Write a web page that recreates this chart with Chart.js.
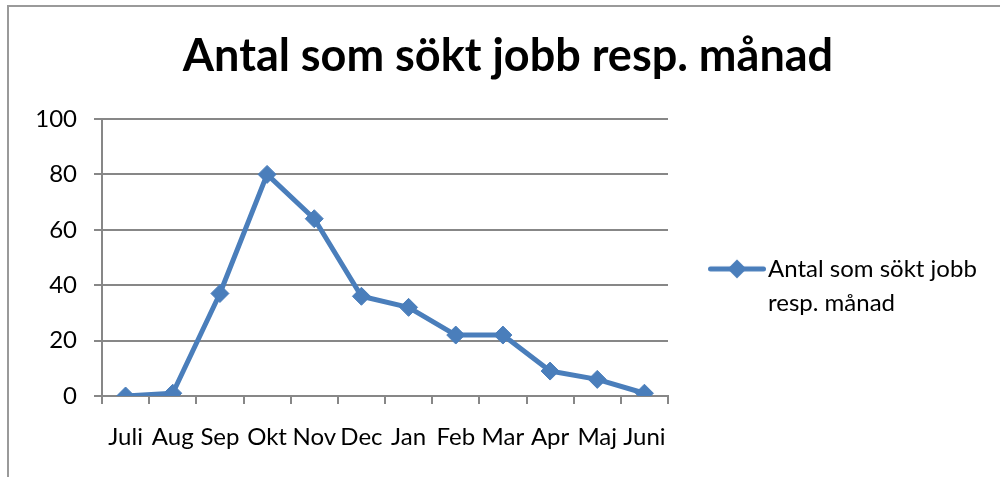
<!DOCTYPE html>
<html lang="sv">
<head>
<meta charset="utf-8">
<title>Antal som sökt jobb resp. månad</title>
<script src="https://cdn.jsdelivr.net/npm/chart.js@4/dist/chart.umd.min.js"></script>
<style>
    html, body { margin: 0; padding: 0; background: #fff; }
    #wrap { position: relative; width: 1000px; height: 477px; overflow: hidden; }
    #frame {
        position: absolute; left: 7px; top: 5px; width: 1100px; height: 600px;
        border-left: 2px solid #9a9a9a; border-top: 2px solid #9a9a9a;
    }
    #graph { position: absolute; left: 0; top: 0; }
</style>
</head>
<body>
<div id="wrap">
    <div id="frame"></div>
    <canvas id="graph" width="1000" height="477"></canvas>
</div>
<script>
// data
const months = ['Juli', 'Aug', 'Sep', 'Okt', 'Nov', 'Dec', 'Jan', 'Feb', 'Mar', 'Apr', 'Maj', 'Juni'];
const applicants = [0, 1, 37, 80, 64, 36, 32, 22, 22, 9, 6, 1];
const yTicks = [0, 20, 40, 60, 80, 100];
const seriesName = 'Antal som sökt jobb resp. månad';
const legendLines = ['Antal som sökt jobb', 'resp. månad'];
const chartTitle = 'Antal som sökt jobb resp. månad';

const blue = '#4A7EBB';
const gray = '#878787';
const font = "Lato, 'Noto Sans', sans-serif";

// legend marker: line + diamond
function makeLegendIcon() {
    const c = document.createElement('canvas');
    c.width = 58;
    c.height = 22;
    const ctx = c.getContext('2d');
    ctx.strokeStyle = blue;
    ctx.fillStyle = blue;
    ctx.lineWidth = 5;
    ctx.lineCap = 'round';
    ctx.beginPath();
    ctx.moveTo(2.5, 11);
    ctx.lineTo(55.5, 11);
    ctx.stroke();
    ctx.beginPath();
    ctx.moveTo(29, 1.5);
    ctx.lineTo(38.5, 11);
    ctx.lineTo(29, 20.5);
    ctx.lineTo(19.5, 11);
    ctx.closePath();
    ctx.fill();
    return c;
}
const legendIcon = makeLegendIcon();

// puts legend and title where the excel chart has them
const boxShift = {
    id: 'boxShift',
    afterLayout(chart, args, opts) {
        const l = chart.legend;
        l.left = chart.chartArea.right + opts.legendGap;
        l.right = chart.width;
        l.top += opts.legendDy;
        l.bottom += opts.legendDy;

        const t = chart.titleBlock;
        t.left = opts.titleLeft;
        t.right = chart.width;
    }
};

let graph = new Chart(document.getElementById('graph'), {
    type: 'line',
    data: {
        labels: months,
        datasets: [{
            label: seriesName,
            data: applicants,
            borderColor: blue,
            backgroundColor: blue,
            borderWidth: 5,
            borderJoinStyle: 'round',
            borderCapStyle: 'round',
            tension: 0,
            pointStyle: 'rectRot',
            pointRadius: 9,
            pointBorderWidth: 1,
            pointBackgroundColor: blue,
            pointBorderColor: blue
        }]
    },
    options: {
        responsive: false,
        animation: false,
        layout: {padding: {left: 0, right: 232, top: 0, bottom: 0}},
        plugins: {
            title: {
                display: true,
                text: chartTitle,
                color: '#000',
                font: {family: font, size: 45, weight: 'bold', lineHeight: 1.2},
                padding: {top: 29, bottom: 36}
            },
            legend: {
                position: 'right',
                fullSize: false,
                maxWidth: 100,
                labels: {
                    color: '#000',
                    font: {family: font, size: 24, lineHeight: 1.42},
                    usePointStyle: true,
                    pointStyleWidth: 38,
                    padding: 10,
                    generateLabels(chart) {
                        const items = Chart.defaults.plugins.legend.labels.generateLabels(chart);
                        items.forEach(it => {
                            it.text = legendLines;
                            it.pointStyle = legendIcon;
                        });
                        return items;
                    }
                }
            },
            boxShift: {legendGap: 40, legendDy: 33.5, titleLeft: 16},
            tooltip: {enabled: false}
        },
        scales: {
            x: {
                offset: true,
                grid: {
                    offset: true,
                    drawOnChartArea: false,
                    color: gray,
                    lineWidth: 2,
                    tickLength: 8
                },
                border: {color: gray, width: 2},
                ticks: {
                    color: '#000',
                    font: {family: font, size: 24},
                    padding: 19,
                    autoSkip: false,
                    maxRotation: 0
                },
                afterFit(scale) {
                    scale.height = 81;
                }
            },
            y: {
                min: 0,
                max: 100,
                afterBuildTicks(scale) {
                    scale.ticks = yTicks.map(v => ({value: v}));
                },
                grid: {
                    color: gray,
                    lineWidth: 2,
                    tickLength: 8
                },
                border: {color: gray, width: 2},
                ticks: {
                    color: '#000',
                    font: {family: font, size: 24},
                    padding: 17
                },
                afterFit(scale) {
                    scale.width = 102;
                }
            }
        }
    },
    plugins: [boxShift]
});
</script>
</body>
</html>
